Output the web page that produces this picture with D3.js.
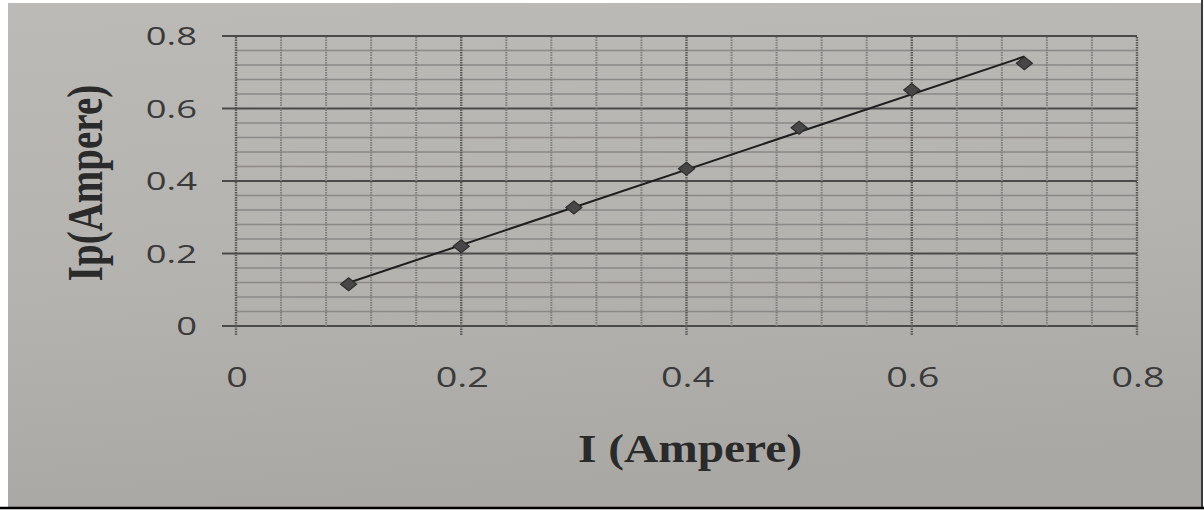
<!DOCTYPE html>
<html><head><meta charset="utf-8">
<script src="https://cdn.jsdelivr.net/npm/d3@7"></script>
<style>html,body{margin:0;padding:0;background:#fff;overflow:hidden}</style>
</head><body>
<svg id="c" width="1204" height="510"></svg>
<script>
// Data
const currentI = [0.1, 0.2, 0.3, 0.4, 0.5, 0.6, 0.7];
const currentIp = [0.115, 0.22, 0.327, 0.434, 0.547, 0.651, 0.725];
const xTickValues = [0, 0.2, 0.4, 0.6, 0.8];
const yTickValues = [0, 0.2, 0.4, 0.6, 0.8];
const xTickLabels = ["0", "0.2", "0.4", "0.6", "0.8"];
const yTickLabels = ["0", "0.2", "0.4", "0.6", "0.8"];
const xTitle = "I (Ampere)";
const yTitle = "Ip(Ampere)";

const svg = d3.select("#c");
const defs = svg.append("defs");
const g = defs.append("linearGradient").attr("id","bg").attr("x1",0).attr("y1",0).attr("x2",0.15).attr("y2",1);
g.append("stop").attr("offset","0%").attr("stop-color","#bcbab7");
g.append("stop").attr("offset","55%").attr("stop-color","#b5b3b0");
g.append("stop").attr("offset","100%").attr("stop-color","#aaa8a5");

// paper background
svg.append("rect").attr("x",8).attr("y",3).attr("width",1193).attr("height",504).attr("fill","url(#bg)");
svg.append("line").attr("x1",1202).attr("x2",1202).attr("y1",0).attr("y2",508).attr("stroke","#3a3a3a").attr("stroke-width",2);
svg.append("line").attr("x1",0).attr("x2",1204).attr("y1",508).attr("y2",508).attr("stroke","#000").attr("stroke-width",2.5);

const x = d3.scaleLinear().domain([0,0.8]).range([236,1137]);
const y = d3.scaleLinear().domain([0,0.8]).range([326,36]);

const minor = d3.range(0, 0.8001, 0.04);
const isMajor = v => Math.abs(v/0.2 - Math.round(v/0.2)) < 1e-6;

// horizontal grid
svg.append("g").selectAll("line").data(minor).join("line")
  .attr("x1",x(0)).attr("x2",x(0.8))
  .attr("y1",d=>y(d)).attr("y2",d=>y(d))
  .attr("stroke",d=>isMajor(d)?"#4a4a4a":"#8a8987")
  .attr("stroke-width",d=>isMajor(d)?2:1.5);

// vertical grid (dotted)
svg.append("g").selectAll("line").data(minor).join("line")
  .attr("y1",y(0)).attr("y2",y(0.8))
  .attr("x1",d=>x(d)).attr("x2",d=>x(d))
  .attr("stroke",d=>isMajor(d)?"#5a5957":"#7f7e7c")
  .attr("stroke-width",d=>isMajor(d)?2.4:2)
  .attr("stroke-dasharray","1.5,1");

// axes ticks
svg.append("g").selectAll("line").data(yTickValues).join("line")
  .attr("x1",222).attr("x2",x(0)).attr("y1",d=>y(d)).attr("y2",d=>y(d))
  .attr("stroke","#4a4a4a").attr("stroke-width",2);
svg.append("g").selectAll("line").data(xTickValues).join("line")
  .attr("x1",d=>x(d)).attr("x2",d=>x(d)).attr("y1",y(0)).attr("y2",y(0)+10)
  .attr("stroke","#5a5a5a").attr("stroke-width",2.4).attr("stroke-dasharray","1.5,1");

// tick labels
svg.append("g").selectAll("text").data(yTickValues).join("text")
  .attr("transform",d=>`translate(197,${y(d)+9}) scale(1.4,1)`)
  .attr("text-anchor","end").attr("font-family","Open Sans").attr("font-size",26)
  .attr("fill","#3a3a3a").text((d,i)=>yTickLabels[i]);
svg.append("g").selectAll("text").data(xTickValues).join("text")
  .attr("transform",d=>`translate(${x(d)+1},387) scale(1.4,1)`)
  .attr("text-anchor","middle").attr("font-family","Open Sans").attr("font-size",27)
  .attr("fill","#3a3a3a").text((d,i)=>xTickLabels[i]);

// trend line (least squares fit of the data)
const mx = d3.mean(currentI), my = d3.mean(currentIp);
const slope = d3.sum(currentI.map((v,i)=>(v-mx)*(currentIp[i]-my))) / d3.sum(currentI.map(v=>(v-mx)*(v-mx)));
const icpt = my - slope*mx;
const x0 = d3.min(currentI), x1 = d3.max(currentI);
svg.append("line")
  .attr("x1",x(x0)).attr("y1",y(icpt+slope*x0))
  .attr("x2",x(x1)).attr("y2",y(icpt+slope*x1))
  .attr("stroke","#1e1e1e").attr("stroke-width",2);

// markers
svg.append("g").selectAll("path").data(currentI).join("path")
  .attr("transform",(d,i)=>`translate(${x(d)},${y(currentIp[i])})`)
  .attr("d","M-8,0L0,-6.5L8,0L0,6.5Z")
  .attr("fill","#474747").attr("stroke","#2e2e2e").attr("stroke-width",1.2);

// titles
svg.append("text").attr("x",690).attr("y",462).attr("text-anchor","middle")
  .attr("font-family","Liberation Serif").attr("font-weight","bold").attr("font-size",41)
  .attr("textLength",224).attr("lengthAdjust","spacingAndGlyphs")
  .attr("fill","#2a2a2a").text(xTitle);
svg.append("text")
  .attr("transform","translate(102,183) scale(1.3,1) rotate(-90)")
  .attr("text-anchor","middle")
  .attr("font-family","Liberation Serif").attr("font-weight","bold").attr("font-size",39)
  .attr("fill","#2a2a2a").text(yTitle);
</script>
</body></html>
